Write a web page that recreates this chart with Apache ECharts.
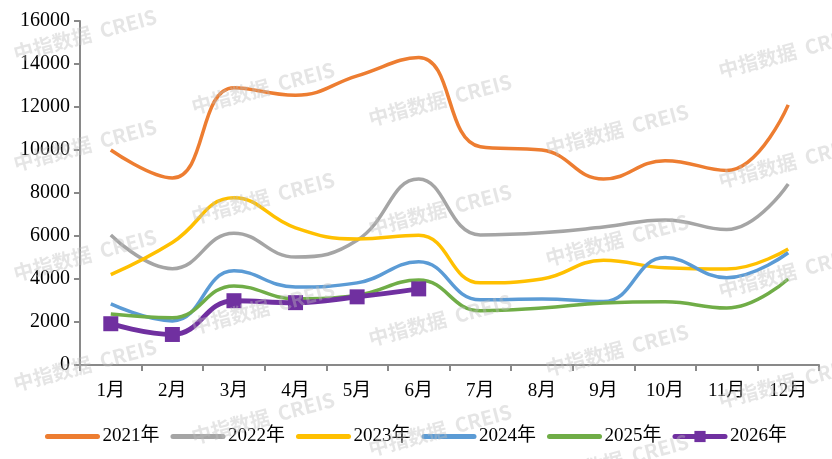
<!DOCTYPE html>
<html>
<head>
<meta charset="utf-8">
<script src="https://cdn.jsdelivr.net/npm/echarts@6/dist/echarts.min.js"></script>
<style>
  html, body { margin: 0; padding: 0; background: #fff; }
  #chart { width: 832px; height: 459px; }
</style>
</head>
<body>
<div id="chart"></div>
<script>
const months = ['1月', '2月', '3月', '4月', '5月', '6月', '7月', '8月', '9月', '10月', '11月', '12月'];
const years = ['2021年', '2022年', '2023年', '2024年', '2025年', '2026年'];

const y2021 = [10000, 8700, 12900, 12550, 13450, 14300, 10150, 10000, 8650, 9500, 9050, 12100];
const y2022 = [6050, 4480, 6130, 5020, 5800, 8650, 6050, 6150, 6420, 6750, 6300, 8420];
const y2023 = [4200, 5700, 7780, 6380, 5860, 6030, 3820, 4000, 4870, 4520, 4460, 5400];
const y2024 = [2840, 2050, 4380, 3630, 3820, 4800, 3030, 3070, 2950, 5000, 4060, 5220];
const y2025 = [2370, 2200, 3680, 3080, 3250, 3950, 2520, 2650, 2880, 2940, 2650, 4000];
const y2026 = [1920, 1420, 2990, 2900, 3170, 3540];

const colors = ['#ED7D31', '#A5A5A5', '#FFC000', '#5B9BD5', '#70AD47', '#7030A0'];
const seriesData = [y2021, y2022, y2023, y2024, y2025, y2026];

const serifFont = '"Liberation Serif", "Times New Roman", "Noto Sans CJK SC", serif';

// watermark tiles
const wmCols = [85, 263, 440, 617, 790];
const wmStart = [35, 88, 100, 130, 52];
const watermarks = [];
wmCols.forEach((x, i) => {
  for (let y = wmStart[i]; y < 470; y += 110) {
    watermarks.push({
      type: 'text',
      x: x,
      y: y,
      rotation: 0.26,
      z: 100,
      style: {
        text: '中指数据  CREIS',
        fill: 'rgba(190,190,190,0.4)',
        font: 'bold 20px "Noto Sans CJK SC", "Open Sans", sans-serif',
        align: 'center',
        verticalAlign: 'middle'
      }
    });
  }
});

const chart = echarts.init(document.getElementById('chart'));

const option = {
  backgroundColor: '#fff',
  animation: false,
  grid: { left: 80, right: 13, top: 21, bottom: 94 },
  legend: {
    bottom: 8,
    left: 'center',
    itemWidth: 50,
    itemHeight: 14,
    itemGap: 11,
    textStyle: { fontFamily: serifFont, fontSize: 19, color: '#000' },
    lineStyle: { width: 5, cap: 'round' },
    data: years.map((name, i) => i === 5 ? { name: name } : { name: name, itemStyle: { opacity: 0 } })
  },
  xAxis: {
    type: 'category',
    data: months,
    boundaryGap: true,
    axisLine: { lineStyle: { color: '#898989', width: 2 } },
    axisTick: { show: true, length: 6, lineStyle: { color: '#898989', width: 2 } },
    axisLabel: { fontFamily: serifFont, fontSize: 19, color: '#000', margin: 17 }
  },
  yAxis: {
    type: 'value',
    min: 0,
    max: 16000,
    interval: 2000,
    axisLine: { show: true, lineStyle: { color: '#898989', width: 2 } },
    axisTick: { show: true, length: 6, lineStyle: { color: '#898989', width: 2 } },
    splitLine: { show: false },
    axisLabel: { fontFamily: serifFont, fontSize: 20, color: '#000', margin: 10, formatter: v => String(v) }
  },
  series: seriesData.map((d, i) => ({
    name: years[i],
    type: 'line',
    data: d,
    smooth: 0.45,
    symbol: i === 5 ? 'rect' : 'none',
    symbolSize: 15,
    itemStyle: { color: colors[i] },
    lineStyle: { color: colors[i], width: i === 5 ? 5 : 3.5 },
    z: 2 + i
  })),
  graphic: watermarks
};

chart.setOption(option);
</script>
</body>
</html>
